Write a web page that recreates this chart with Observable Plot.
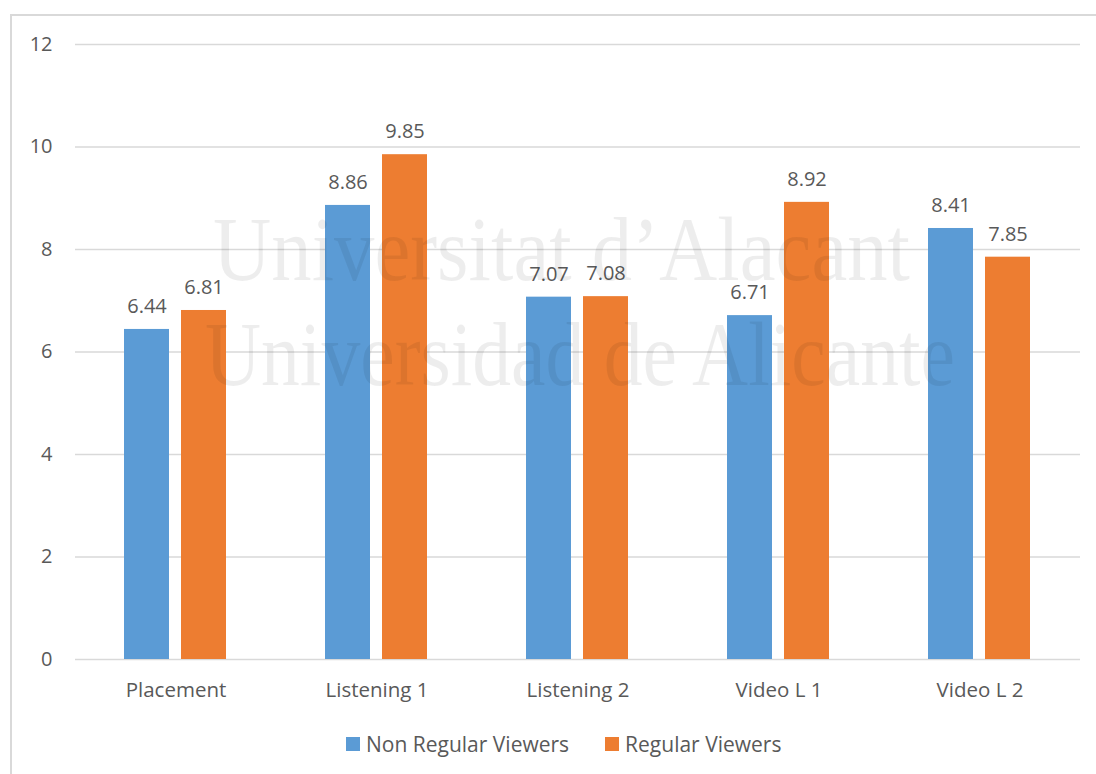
<!DOCTYPE html>
<html>
<head>
<meta charset="utf-8">
<script src="https://cdn.jsdelivr.net/npm/d3@7"></script>
<script src="https://cdn.jsdelivr.net/npm/@observablehq/plot@0.6"></script>
<style>
  html, body { margin: 0; padding: 0; background: #fff; }
  #wrap { position: relative; width: 1096px; height: 774px; overflow: hidden; font-family: "Open Sans", sans-serif; }
  #frame { position: absolute; left: 10px; top: 14px; width: 1200px; height: 900px; border-left: 2px solid #d9d9d9; border-top: 2px solid #d9d9d9; }
  #chart { position: absolute; left: 0; top: 0; }
  #legend { position: absolute; top: 730px; left: 346px; display: flex; align-items: center; font-size: 21px; color: #595959; white-space: nowrap; }
  #legend .sw { display: inline-block; width: 14px; height: 14px; margin-right: 6px; }
  #legend .item { display: flex; align-items: center; margin-right: 36px; }
  #wm { position: absolute; left: 0; top: 0; pointer-events: none; }
</style>
</head>
<body>
<div id="wrap">
  <div id="frame"></div>
  <div id="chart"></div>
  <svg id="wm" width="1096" height="774">
    <g fill="#000" fill-opacity="0.07" font-family="'Liberation Serif', serif" font-size="92">
      <text x="213" y="280" textLength="697" lengthAdjust="spacingAndGlyphs">Universitat d’Alacant</text>
      <text x="205" y="385" textLength="750" lengthAdjust="spacingAndGlyphs">Universidad de Alicante</text>
    </g>
  </svg>
  <div id="legend"></div>
</div>
<script>
const categories = ["Placement", "Listening 1", "Listening 2", "Video L 1", "Video L 2"];
const seriesNames = ["Non Regular Viewers", "Regular Viewers"];
const nonRegular = [6.44, 8.86, 7.07, 6.71, 8.41];
const regular = [6.81, 9.85, 7.08, 8.92, 7.85];
const seriesColors = ["#5B9BD5", "#ED7D31"];
const yTicks = [0, 2, 4, 6, 8, 10, 12];

const data = [];
categories.forEach((c, i) => {
  data.push({category: c, series: seriesNames[0], value: nonRegular[i]});
  data.push({category: c, series: seriesNames[1], value: regular[i]});
});

const font = "'Open Sans', sans-serif";
const chart = Plot.plot({
  width: 1096,
  height: 710,
  marginLeft: 75,
  marginRight: 16,
  marginTop: 44,
  marginBottom: 51,
  style: {fontFamily: font, fontSize: "20px", color: "#595959", background: "transparent"},
  fx: {domain: categories, padding: 0, label: null, axis: null},
  x: {domain: seriesNames, paddingInner: 0.21, paddingOuter: 0.868, axis: null},
  y: {domain: [0, 12], ticks: yTicks, label: null, axis: null},
  color: {domain: seriesNames, range: seriesColors},
  marks: [
    Plot.ruleY(yTicks, {stroke: "#d9d9d9", strokeWidth: 1.5}),
    Plot.barY(data, {fx: "category", x: "series", y: "value", fill: "series"}),
    Plot.text(data, {fx: "category", x: "series", y: "value", text: d => d.value.toFixed(2), dy: -23, fill: "#595959", fontSize: 20}),
    Plot.axisFx({anchor: "bottom", fontSize: 20.5, tickSize: 0, tickPadding: 23, label: null, fill: "#595959"}),
    Plot.axisY({anchor: "left", ticks: yTicks, tickSize: 0, tickPadding: 23, label: null, fontSize: 20, fill: "#595959"})
  ]
});
document.getElementById("chart").appendChild(chart);

const legend = document.getElementById("legend");
seriesNames.forEach((s, i) => {
  const item = document.createElement("div");
  item.className = "item";
  const sw = document.createElement("span");
  sw.className = "sw";
  sw.style.background = seriesColors[i];
  const label = document.createElement("span");
  label.textContent = s;
  item.appendChild(sw);
  item.appendChild(label);
  legend.appendChild(item);
});
</script>
</body>
</html>
